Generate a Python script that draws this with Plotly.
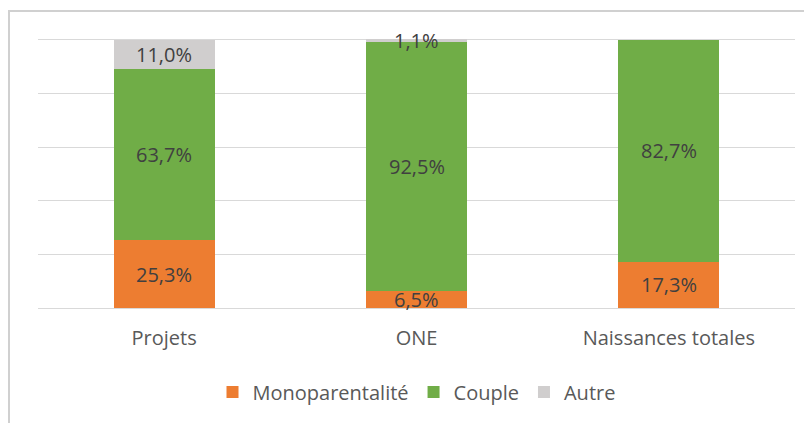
import plotly.graph_objects as go

categories = ["Projets", "ONE", "Naissances totales"]
mono = [25.3, 6.5, 17.3]
couple = [63.7, 92.5, 82.7]
autre = [11.0, 1.1, 0.0]

series = [
    ("Monoparentalité", mono, "#ED7D31"),
    ("Couple", couple, "#70AD47"),
    ("Autre", autre, "#D0CECE"),
]

FONT = "Open Sans"
TXT = "#595959"

# figure geometry (page body adds an 8px margin, so figure is 804x415)
W, H = 804, 415
ML, MR, MT, MB = 30, 17, 29, 115
PW, PH = W - ML - MR, H - MT - MB


def px_x(x):
    return (x - ML) / PW


def px_y(y):
    return 1 - (y - MT) / PH


fig = go.Figure()
for name, vals, col in series:
    fig.add_trace(go.Bar(x=categories, y=vals, name=name, marker_color=col,
                         marker_line_width=0))

# data labels centred in each segment
annotations = []
base = [0.0] * len(categories)
for name, vals, col in series:
    for i, v in enumerate(vals):
        if v > 0:
            annotations.append(dict(
                x=categories[i], y=base[i] + v / 2, xref="x", yref="y",
                text=f"{v:.1f}%".replace(".", ","), showarrow=False,
                font=dict(family=FONT, size=20, color="#404040")))
        base[i] += v

fig.update_layout(
    barmode="stack",
    bargap=0.6,
    width=W, height=H,
    margin=dict(l=ML, r=MR, t=MT, b=MB),
    paper_bgcolor="white", plot_bgcolor="white",
    font=dict(family=FONT, size=20, color=TXT),
    xaxis=dict(showgrid=False, showline=False, ticks="", ticklabelstandoff=16,
               tickfont=dict(size=20, color=TXT), automargin=False),
    yaxis=dict(range=[0, 101], tickvals=[0, 20, 40, 60, 80, 100],
               showgrid=True, gridcolor="#D9D9D9",
               gridwidth=1, showticklabels=False, zeroline=True,
               zerolinecolor="#D9D9D9", zerolinewidth=1, automargin=False),
    legend=dict(orientation="h", x=0.5, xanchor="center", y=px_y(384),
                yanchor="middle", font=dict(size=20, color=TXT),
                itemwidth=30, traceorder="normal"),
    annotations=annotations,
    showlegend=True,
    shapes=[
        dict(type="line", xref="paper", yref="paper", layer="above",
             x0=px_x(1), x1=px_x(1), y0=px_y(2), y1=px_y(H),
             line=dict(color="#D0D0D0", width=2)),
        dict(type="line", xref="paper", yref="paper", layer="above",
             x0=px_x(0), x1=px_x(W), y0=px_y(3), y1=px_y(3),
             line=dict(color="#D0D0D0", width=2)),
    ],
)

fig.write_html("out.html")
